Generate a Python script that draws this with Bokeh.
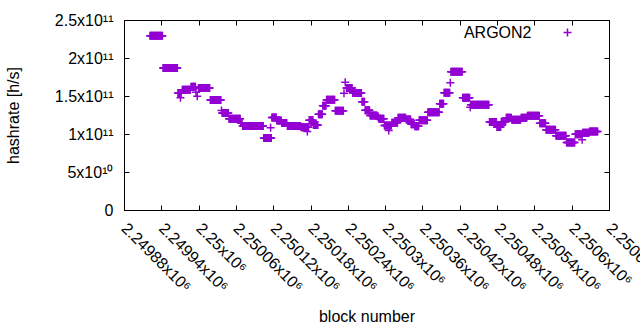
import numpy as np
from bokeh.plotting import figure
from bokeh.models import Range1d, FixedTicker, LinearAxis, Label, Legend, LegendItem, ColumnDataSource
from bokeh.embed import file_html
from bokeh.resources import INLINE

# ---- data: runs of blocks with the same hashrate (GH/s) ----
run_first_block = [
    2249921, 2249942, 2249966, 2249970, 2249973, 2249987, 2249995, 2249997, 2249999, 2250018,
    2250036, 2250037, 2250048, 2250067, 2250070, 2250104, 2250115, 2250117, 2250125, 2250133,
    2250142, 2250164, 2250174, 2250177, 2250184, 2250192, 2250199, 2250205, 2250219, 2250233,
    2250235, 2250237, 2250247, 2250262, 2250267, 2250275, 2250287, 2250289, 2250298, 2250305,
    2250310, 2250320, 2250333, 2250341, 2250347, 2250354, 2250368, 2250387, 2250394, 2250404,
    2250405, 2250424, 2250436, 2250437, 2250467, 2250479, 2250486, 2250494, 2250503, 2250518,
    2250528, 2250548, 2250558, 2250574, 2250591, 2250605, 2250616, 2250617, 2250628,
]
run_last_block = [
    2249941, 2249965, 2249971, 2249970, 2249986, 2249994, 2249995, 2249997, 2250017, 2250035,
    2250036, 2250047, 2250066, 2250069, 2250103, 2250116, 2250115, 2250124, 2250132, 2250141,
    2250163, 2250176, 2250174, 2250183, 2250191, 2250198, 2250204, 2250218, 2250232, 2250233,
    2250235, 2250246, 2250261, 2250266, 2250274, 2250286, 2250288, 2250297, 2250309, 2250305,
    2250319, 2250332, 2250340, 2250346, 2250353, 2250367, 2250386, 2250393, 2250403, 2250404,
    2250423, 2250435, 2250436, 2250466, 2250478, 2250485, 2250493, 2250502, 2250517, 2250527,
    2250547, 2250557, 2250573, 2250590, 2250604, 2250615, 2250616, 2250627, 2250641,
]
run_hashrate_gh = [
    229.9, 187.5, 154.6, 148.3, 158.8, 162.8, 155.7, 150.4, 161.2, 145.4,
    131.6, 128.3, 120.7, 115.1, 111.3, 95.4, 108.8, 122.4, 118.4, 115.1,
    111.2, 109.6, 104.0, 118.8, 112.5, 126.7, 137.8, 145.7, 131.2, 154.3,
    168.8, 161.2, 154.6, 143.1, 132.0, 125.0, 123.7, 120.7, 111.8, 105.3,
    115.5, 122.0, 119.7, 113.5, 110.9, 118.8, 129.3, 140.4, 155.0, 168.0,
    182.5, 148.3, 136.0, 139.1, 116.4, 110.0, 116.8, 122.0, 119.3, 122.0,
    124.8, 114.9, 106.2, 98.4, 89.5, 100.4, 93.0, 102.4, 104.0,
]

x_ticks = [2249880 + 60 * i for i in range(14)]
y_ticks = [0, 5e10, 1e11, 1.5e11, 2e11, 2.5e11]
series_name = "ARGON2"
x_title = "block number"
y_title = "hashrate [h/s]"

SUPERS = str.maketrans("0123456789-", "⁰¹²³⁴⁵⁶⁷⁸⁹⁻")


def sci_label(v):
    if v == 0:
        return "0"
    e = int(np.floor(np.log10(abs(v))))
    m = v / 10 ** e
    return f"{m:.6g}x10" + str(e).translate(SUPERS)


# expand the runs into one point per block
blocks, rates = [], []
for a, b, v in zip(run_first_block, run_last_block, run_hashrate_gh):
    for blk in range(a, b + 1):
        blocks.append(blk)
        rates.append(v * 1e9)
src = ColumnDataSource(dict(block=blocks, rate=rates))

COLOR = "#9400d3"
FONT = "Liberation Sans"
FS = "16px"

x0, x1 = x_ticks[0], x_ticks[-1]
y0, y1 = y_ticks[0], y_ticks[-1]
# an unlabeled sentinel tick just past the last one keeps Bokeh from sliding the
# last (overflowing) tick label back into the canvas; the original is cut at the edge
x_end = x1 + 0.02
sentinel = x1 + 0.01

p = figure(width=640, height=330, x_range=Range1d(x0, x_end), y_range=Range1d(y0, y1),
           output_backend="svg", toolbar_location=None,
           min_border_left=124, min_border_right=31, min_border_top=20, min_border_bottom=120)
p.xgrid.visible = False
p.ygrid.visible = False
p.outline_line_color = "black"
p.outline_line_width = 1
p.background_fill_color = "white"
p.border_fill_color = "white"

p.add_layout(LinearAxis(), "right")
p.add_layout(LinearAxis(), "above")
for ax in p.xaxis + p.yaxis:
    ax.major_tick_in = 5
    ax.major_tick_out = 0
    ax.minor_tick_line_color = None
    ax.axis_line_color = "black"
    ax.major_tick_line_color = "black"
    ax.major_label_text_font = FONT
    ax.major_label_text_font_size = FS
    ax.major_label_text_color = "black"
    ax.axis_label_text_font = FONT
    ax.axis_label_text_font_size = FS
    ax.axis_label_text_font_style = "normal"
    ax.axis_label_text_color = "black"
for ax in p.xaxis:
    ax.ticker = FixedTicker(ticks=x_ticks + [sentinel])
for ax in p.yaxis:
    ax.ticker = FixedTicker(ticks=y_ticks)

left, below, right, above = p.left[0], p.below[0], p.right[0], p.above[0]
left.major_label_overrides = {v: sci_label(v) for v in y_ticks}
left.major_label_standoff = 11
left.axis_label = y_title
left.axis_label_standoff = 30
below_labels = {t: sci_label(t) for t in x_ticks}
below_labels[sentinel] = ""
below.major_label_overrides = below_labels
below.major_label_orientation = -np.pi / 4
below.major_label_standoff = 15
below.axis_label = x_title
below.axis_label_standoff = 4
for ax in (right, above):
    ax.major_label_overrides = {t: "" for t in ax.ticker.ticks}
    ax.major_label_text_font_size = "0px"
    ax.major_label_standoff = 0

r = p.scatter("block", "rate", source=src, marker="cross", size=8,
              line_color=COLOR, line_width=1.5)

# key: text then marker, like the original
p.add_layout(Label(x=x_end, y=y1, text=series_name, x_offset=-78, y_offset=-12,
                   text_align="right", text_baseline="middle",
                   text_font=FONT, text_font_size=FS, text_color="black"))
legend = Legend(items=[LegendItem(label=" ", renderers=[r])], location=(433, 168),
                padding=0, margin=0, spacing=0, border_line_color=None,
                background_fill_alpha=0, glyph_width=20, glyph_height=20,
                label_standoff=0, label_width=1, label_height=20, label_text_font_size="1px")
p.add_layout(legend, "center")

open("out.html", "w").write(file_html(p, INLINE))
